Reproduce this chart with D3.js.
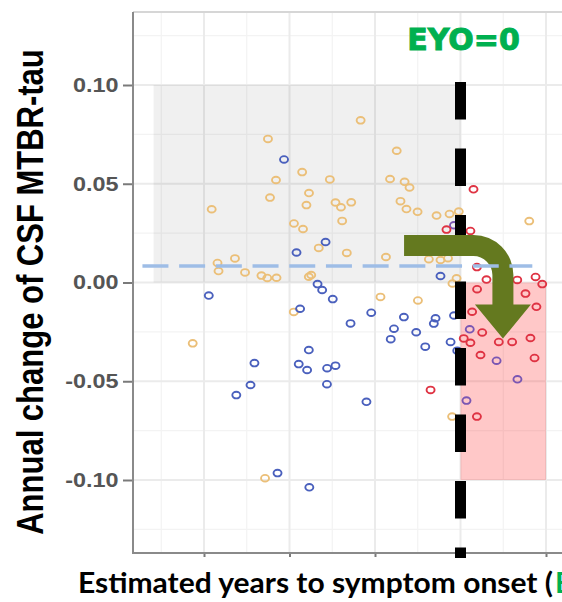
<!DOCTYPE html>
<html>
<head>
<meta charset="utf-8">
<script src="https://cdn.jsdelivr.net/npm/d3@7"></script>
<style>
  html, body { margin: 0; padding: 0; background: #fff; overflow: hidden; }
</style>
</head>
<body>
<div id="chart"></div>
<script>
// values
const xTicks = [-15, -10, -5, 0, 5];
const yTicks = [-0.10, -0.05, 0.00, 0.05, 0.10];
const yTickLabels = ['-0.10', '-0.05', '0.00', '0.05', '0.10'];

// non-carriers (tan)
const ncEyo = [-11.26, -10.79, -11.14, -9.26, -8.86, -9.01, -14.55, -9.74, -9.21, -14.21,
  -13.19, -14.15, -12.60, -11.64, -11.30, -10.76, -8.87, -15.66, -5.84, -3.73,
  -7.64, -4.12, -3.27, -2.98, -7.31, -6.99, -6.39, -3.51, -3.16, -2.51,
  -6.92, -1.40, -0.64, -0.10, -8.29, -6.65, -4.36, -1.85, -0.73, -8.73,
  -4.68, -2.49, 4.02, -9.75, -0.49, -11.43, -0.47, -0.23, -1.17];
const ncChange = [0.0727, 0.0519, 0.0430, 0.0559, 0.0453, 0.0392, 0.0371, 0.0299, 0.0271, 0.0099,
  0.0122, 0.0058, 0.0051, 0.0035, 0.0023, 0.0024, 0.0029, -0.0308, 0.0821, 0.0667,
  0.0522, 0.0524, 0.0510, 0.0481, 0.0405, 0.0381, 0.0406, 0.0412, 0.0372, 0.0358,
  0.0312, 0.0339, 0.0347, 0.0359, 0.0175, 0.0150, 0.0129, 0.0118, 0.0123, 0.0038,
  -0.0073, -0.0091, 0.0311, -0.0149, -0.0679, -0.0991, -0.0005, 0.0021, 0.0114];

// carriers, CDR 0 (blue)
const cdr0Eyo = [-10.32, -9.59, -7.89, -14.72, -8.36, -8.09, -7.47, -9.38, -6.43, -5.22,
  -3.31, -1.46, -1.56, -3.89, -4.08, -2.59, -2.06, -0.58, -8.87, -9.46,
  -8.97, -7.80, -7.31, -7.81, -5.50, -12.05, -12.28, -13.11, -10.70, -8.84,
  -1.17, -0.19, -0.38];
const cdr0Change = [0.0623, 0.0152, 0.0205, -0.0066, -0.0008, -0.0038, -0.0084, -0.0133, -0.0207, -0.0153,
  -0.0175, -0.0181, -0.0208, -0.0234, -0.0287, -0.0252, -0.0325, -0.0301, -0.0342, -0.0413,
  -0.0443, -0.0434, -0.0421, -0.0515, -0.0604, -0.0408, -0.0519, -0.0570, -0.0965, -0.1037,
  0.0033, -0.0345, -0.0167];

// carriers, CDR 0.5 (purple)
const cdr05Eyo = [-0.38, 0.54, 2.11, 3.33, 0.35];
const cdr05Change = [0.0290, -0.0237, -0.0396, -0.0490, -0.0598];

// carriers, CDR >= 1 (red)
const cdr1Eyo = [0.76, 0.58, -0.82, 0.96, 1.52, 3.32, 3.80, 4.39, 4.78, 0.97,
  4.44, 0.68, 1.27, 0.19, 0.58, 2.24, 3.02, 4.09, 1.17, 4.33,
  -1.75, 0.96];
const cdr1Change = [0.0472, 0.0261, 0.0268, 0.0078, 0.0015, 0.0013, -0.0056, 0.0028, -0.0008, -0.0034,
  -0.0123, -0.0148, -0.0253, -0.0283, -0.0305, -0.0301, -0.0301, -0.0281, -0.0367, -0.0382,
  -0.0544, -0.0679];

const meanLine = [-18.6, 4.2, 0.0083];        // x from, x to, value
const preBox = [-17.95, 0, 0, 0.10];           // x0, x1, y0, y1
const postBox = [0, 5, -0.10, 0];
const arrowPts = [-3.3, 0.0187, 2.48, -0.0284]; // start x/y, shaft x, tip y

const groups = [
  { eyo: ncEyo, change: ncChange, color: '#ebbf78' },
  { eyo: cdr0Eyo, change: cdr0Change, color: '#4a60bd' },
  { eyo: cdr05Eyo, change: cdr05Change, color: '#7a56b3' },
  { eyo: cdr1Eyo, change: cdr1Change, color: '#df3343' }
];

const width = 562, height = 602;
const panel = { left: 133, right: 610, top: 12, bottom: 553 };

const x = d3.scaleLinear().domain([-15, 5]).range([204, 546]);
const y = d3.scaleLinear().domain([-0.10, 0.10]).range([480, 85]);

const svg = d3.select('#chart').append('svg')
  .attr('width', width)
  .attr('height', height)
  .style('display', 'block');

svg.append('rect').attr('width', width).attr('height', height).attr('fill', '#fff');

const plot = svg.append('g');

// grid
const xMin = x.invert(panel.left), xMax = x.invert(panel.right);
const yMax = y.invert(panel.top);
const vMinor = d3.range(-17.5, xMax, 5);
const vMajor = d3.range(-20, xMax, 5).filter(v => v > xMin);
const hMinor = d3.range(-0.125, yMax, 0.05);
const hMajor = yTicks;

plot.selectAll('.vminor').data(vMinor).enter().append('line')
  .attr('x1', d => x(d)).attr('x2', d => x(d))
  .attr('y1', panel.top).attr('y2', panel.bottom)
  .attr('stroke', '#f3f3f3').attr('stroke-width', 1.2);
plot.selectAll('.hminor').data(hMinor).enter().append('line')
  .attr('y1', d => y(d)).attr('y2', d => y(d))
  .attr('x1', panel.left).attr('x2', panel.right)
  .attr('stroke', '#f3f3f3').attr('stroke-width', 1.2);
plot.selectAll('.vmajor').data(vMajor).enter().append('line')
  .attr('x1', d => x(d)).attr('x2', d => x(d))
  .attr('y1', panel.top).attr('y2', panel.bottom)
  .attr('stroke', '#ebebeb').attr('stroke-width', 2);
plot.selectAll('.hmajor').data(hMajor).enter().append('line')
  .attr('y1', d => y(d)).attr('y2', d => y(d))
  .attr('x1', panel.left).attr('x2', panel.right)
  .attr('stroke', '#ebebeb').attr('stroke-width', 2);

// shaded regions
plot.append('rect')
  .attr('x', x(preBox[0])).attr('y', y(preBox[3]))
  .attr('width', x(preBox[1]) - x(preBox[0]))
  .attr('height', y(preBox[2]) - y(preBox[3]))
  .attr('fill', '#000').attr('fill-opacity', 0.06);
plot.append('rect')
  .attr('x', x(postBox[0])).attr('y', y(postBox[3]))
  .attr('width', x(postBox[1]) - x(postBox[0]))
  .attr('height', y(postBox[2]) - y(postBox[3]))
  .attr('fill', '#ff1a1a').attr('fill-opacity', 0.24);

// points
groups.forEach(g => {
  plot.append('g').selectAll('ellipse')
    .data(d3.zip(g.eyo, g.change))
    .enter().append('ellipse')
    .attr('cx', d => x(d[0]))
    .attr('cy', d => y(d[1]))
    .attr('rx', 4).attr('ry', 3.3)
    .attr('fill', 'none')
    .attr('stroke', g.color)
    .attr('stroke-width', 1.9);
});

// EYO = 0 line
plot.append('line')
  .attr('x1', x(0)).attr('x2', x(0))
  .attr('y1', 82).attr('y2', 558)
  .attr('stroke', '#000').attr('stroke-width', 11)
  .attr('stroke-dasharray', '37.5 29');

// bent arrow
const ax0 = x(arrowPts[0]), ay0 = y(arrowPts[1]), acx = x(arrowPts[2]), atip = y(arrowPts[3]);
const h = 10.5, R = 29.5, headW = 28, headL = 34;
const headBase = atip - headL;
const arrowPath = [
  `M${ax0},${ay0 - h}`,
  `L${acx - R},${ay0 - h}`,
  `A${R + h},${R + h} 0 0 1 ${acx + h},${ay0 + R}`,
  `L${acx + h},${headBase}`,
  `L${acx + headW},${headBase}`,
  `L${acx},${atip}`,
  `L${acx - headW},${headBase}`,
  `L${acx - h},${headBase}`,
  `L${acx - h},${ay0 + R}`,
  `A${R - h},${R - h} 0 0 0 ${acx - R},${ay0 + h}`,
  `L${ax0},${ay0 + h}`,
  'Z'
].join(' ');
plot.append('path').attr('d', arrowPath).attr('fill', '#64791f');

// mean reference line
plot.append('line')
  .attr('x1', x(meanLine[0])).attr('x2', x(meanLine[1]))
  .attr('y1', y(meanLine[2])).attr('y2', y(meanLine[2]))
  .attr('stroke', '#9ebde6').attr('stroke-width', 3.5)
  .attr('stroke-dasharray', '26 10.7');

// panel frame
svg.append('line')
  .attr('x1', panel.left).attr('x2', panel.right)
  .attr('y1', panel.top).attr('y2', panel.top)
  .attr('stroke', '#d6d6d6').attr('stroke-width', 2);

// axes
const yAxis = svg.append('g')
  .attr('transform', `translate(${panel.left},0)`)
  .call(d3.axisLeft(y).tickValues(yTicks)
    .tickFormat((d, i) => yTickLabels[i])
    .tickSize(10).tickPadding(2));
yAxis.select('.domain').remove();
yAxis.selectAll('.tick line').attr('stroke', '#7a7a7a').attr('stroke-width', 2);
yAxis.selectAll('.tick text')
  .attr('transform', 'scale(1.2,1)')
  .attr('fill', '#555')
  .style('font-family', '"Liberation Sans", Arial, sans-serif')
  .style('font-weight', 'bold')
  .style('font-size', '19.5px');

const xAxis = svg.append('g')
  .attr('transform', `translate(0,${panel.bottom})`)
  .call(d3.axisBottom(x).tickValues(xTicks).tickFormat('').tickSize(4));
xAxis.select('.domain').remove();
xAxis.selectAll('.tick line').attr('stroke', '#7a7a7a').attr('stroke-width', 2);

svg.append('line')
  .attr('x1', panel.left).attr('x2', panel.left)
  .attr('y1', panel.top).attr('y2', panel.bottom + 1)
  .attr('stroke', '#8a8a8a').attr('stroke-width', 2);
svg.append('line')
  .attr('x1', panel.left).attr('x2', panel.right)
  .attr('y1', panel.bottom).attr('y2', panel.bottom)
  .attr('stroke', '#8a8a8a').attr('stroke-width', 2);

// bottom stub of the EYO line sits over the axis
svg.append('line')
  .attr('x1', x(0)).attr('x2', x(0))
  .attr('y1', 548).attr('y2', 557)
  .attr('stroke', '#000').attr('stroke-width', 11);

// labels
svg.append('text')
  .attr('x', 463.5).attr('y', 50)
  .attr('text-anchor', 'middle')
  .attr('fill', '#00b050')
  .attr('stroke', '#00b050')
  .attr('stroke-width', 1)
  .style('font-family', '"DejaVu Sans", sans-serif')
  .style('font-weight', 'bold')
  .style('font-size', '30px')
  .text('EYO=0');

svg.append('text')
  .attr('transform', 'translate(43,292) scale(1.2,1) rotate(-90)')
  .attr('text-anchor', 'middle')
  .attr('fill', '#000')
  .style('font-family', '"Liberation Sans", Arial, sans-serif')
  .style('font-weight', 'bold')
  .style('font-size', '31px')
  .text('Annual change of CSF MTBR-tau');

svg.append('text')
  .attr('x', 78).attr('y', 593)
  .attr('textLength', 475)
  .attr('lengthAdjust', 'spacingAndGlyphs')
  .attr('fill', '#000')
  .style('font-family', 'Lato, "Open Sans", sans-serif')
  .style('font-weight', 'bold')
  .style('font-size', '29px')
  .text('Estimated years to symptom onset (');
// the reference is cropped here, only the first green letter shows
svg.append('text')
  .attr('x', 555).attr('y', 593)
  .attr('fill', '#00b050')
  .style('font-family', 'Lato, "Open Sans", sans-serif')
  .style('font-weight', 'bold')
  .style('font-size', '29px')
  .text('EYO)');
</script>
</body>
</html>
